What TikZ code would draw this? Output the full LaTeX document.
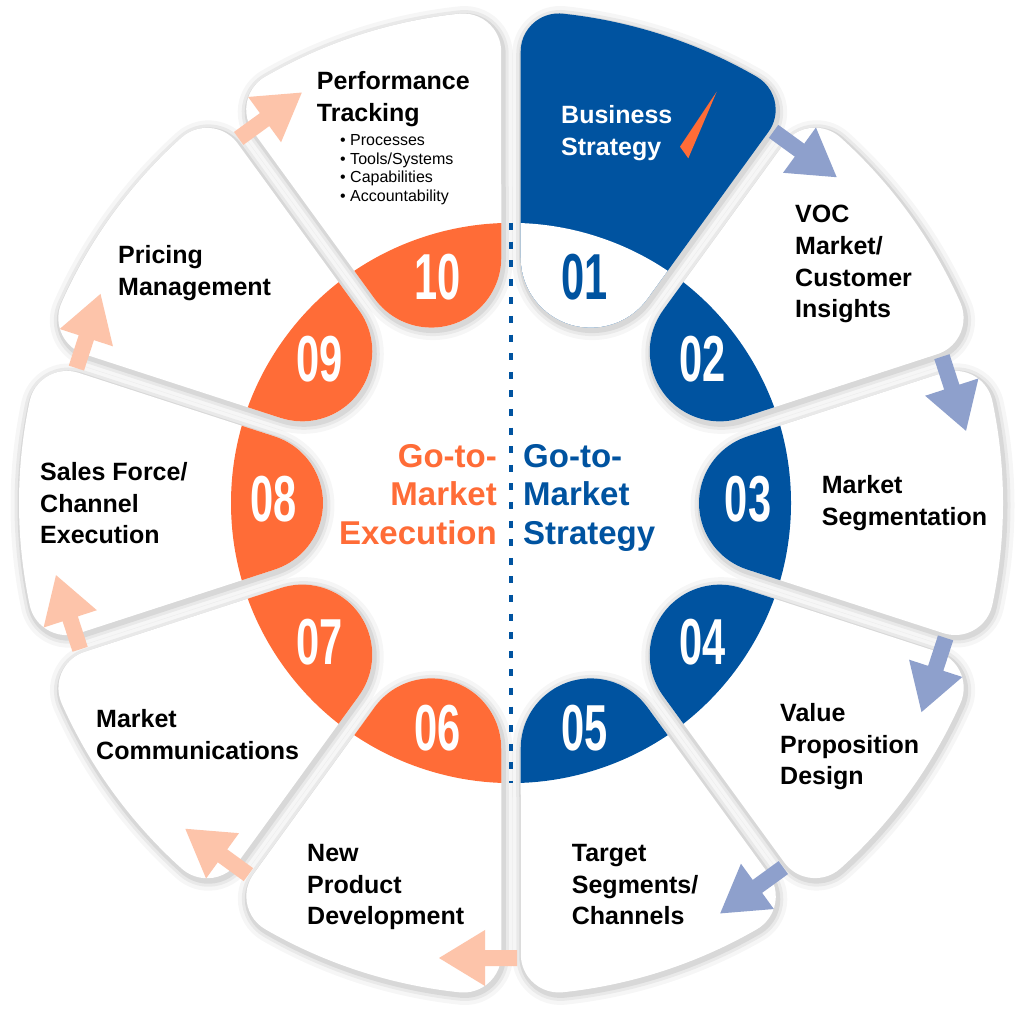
\documentclass[tikz,border=0pt]{standalone}
\usepackage{fontspec}
\setmainfont{Liberation Sans}
\newfontfamily\numfont{Liberation Sans}[FakeStretch=0.64]
\definecolor{gblue}{RGB}{0,83,160}
\definecolor{gorange}{RGB}{255,108,55}
\definecolor{arrblue}{RGB}{142,160,204}
\definecolor{arrpink}{RGB}{253,196,170}
\newcommand\petal[2]{%
  \begin{scope}[shift={(512.5,513.5)}, rotate=#1]
    \draw[black, opacity=0.035, line width=20pt, line join=round, petalpath];
    \draw[black, opacity=0.05, line width=12pt, line join=round, petalpath];
    \draw[black, opacity=0.07, line width=6pt, line join=round, petalpath];
  \end{scope}
  \begin{scope}[shift={(511,516)}, rotate=#1]
    \fill[white, petalpath];
    \begin{scope}
      \clip[petalpath];
      \fill[#2] (0,0) circle[radius=280pt];
    \end{scope}
  \end{scope}}
\newcommand\garrow[2]{%
  \begin{scope}[shift={(511,516)}, rotate=#1]
    \fill[#2] (447,6) -- (463,6) -- (463,-26) -- (483,-26) -- (455,-72) -- (427,-26) -- (447,-26) -- cycle;
  \end{scope}}
\begin{document}
\begin{tikzpicture}[x=1pt,y=1pt,
  petalpath/.style={insert path={(236.4,66.6) -- (432.4,130.3)
      arc[start angle=108, end angle=11.96, radius=38pt]
      arc[start angle=11.96, end angle=-11.96, radius=492pt]
      arc[start angle=-11.96, end angle=-108, radius=38pt]
      -- (236.4,-66.6)
      arc[start angle=252, end angle=108, radius=70pt] -- cycle}},
  lab/.style={font=\bfseries\fontsize{25}{31.7}\selectfont, align=left, anchor=north west, inner sep=0pt, text=black},
  mid/.style={font=\bfseries\fontsize{33}{38.5}\selectfont, inner sep=0pt},
  num/.style={font=\numfont\bfseries\fontsize{65}{65}\selectfont, inner sep=0pt, text=white},
  ]
\useasboundingbox (0,0) rectangle (1024,1019);
\fill[white] (0,0) rectangle (1024,1019);

% petals, bottom of the stack first
\petal{-72}{gblue}
\petal{-108}{gorange}
\petal{-36}{gblue}
\petal{-144}{gorange}
\petal{0}{gblue}
\petal{180}{gorange}
\petal{36}{gblue}
\petal{144}{gorange}
% petal 01 (highlighted)
\begin{scope}[shift={(512.5,513.5)}, rotate=72]
  \draw[black, opacity=0.035, line width=20pt, line join=round, petalpath];
  \draw[black, opacity=0.05, line width=12pt, line join=round, petalpath];
  \draw[black, opacity=0.07, line width=6pt, line join=round, petalpath];
\end{scope}
\begin{scope}[shift={(511,516)}, rotate=72]
  \fill[gblue, petalpath];
  \begin{scope}
    \clip[petalpath];
    \fill[white] (0,0) circle[radius=280pt];
  \end{scope}
\end{scope}
\petal{108}{gorange}

% dotted divider
\coordinate (dtop) at (511,796);
\coordinate (dbot) at (511,236);
\draw[gblue, line width=4.5pt, dash pattern=on 7pt off 11.6pt] (dtop) -- (dbot);

% arrows between steps
\garrow{54}{arrblue}
\garrow{18}{arrblue}
\garrow{-18}{arrblue}
\garrow{-54}{arrblue}
\garrow{-90}{arrpink}
\garrow{-126}{arrpink}
\garrow{-162}{arrpink}
\garrow{162}{arrpink}
\garrow{126}{arrpink}

% pointer in Business Strategy
\fill[gorange] (716.7,927.3) -- (680,872.3) -- (688.3,860.7) -- cycle;

% numbers
\begin{scope}[shift={(511,516)}]
  \node[num, text=gblue] (n01) at (72:237) {01};
  \node[num] (n02) at ([yshift=5]36:237) {02};
  \node[num] (n03) at ([yshift=4]0:237) {03};
  \node[num] (n04) at (-36:237) {04};
  \node[num] (n05) at (-72:237) {05};
  \node[num] (n06) at (-108:237) {06};
  \node[num] (n07) at (-144:237) {07};
  \node[num] (n08) at ([yshift=4]180:237) {08};
  \node[num] (n09) at ([yshift=5]144:237) {09};
  \node[num] (n10) at (108:237) {10};
\end{scope}

% labels
\node[lab, text=white] (l01) at (561,914) {Business\\Strategy};
\node[lab] (l02) at (795,814) {VOC\\Market/\\Customer\\Insights};
\node[lab] (l03) at (821.7,544) {Market\\Segmentation};
\node[lab] (l04) at (780,316) {Value\\Proposition\\Design};
\node[lab] (l05) at (571.7,175) {Target\\Segments/\\Channels};
\node[lab] (l06) at (307,175) {New\\Product\\Development};
\node[lab] (l07) at (96,310) {Market\\Communications};
\node[lab] (l08) at (40,557) {Sales Force/\\Channel\\Execution};
\node[lab] (l09) at (118,774) {Pricing\\Management};
\node[lab] (l10) at (316.7,947.7) {Performance\\Tracking};
\node[lab, font=\fontsize{16}{18.5}\selectfont] (b10) at (340,884.5) {• Processes\\• Tools/Systems\\• Capabilities\\• Accountability};

% centre titles
\node[mid, text=gorange, align=right, anchor=north east] (gx) at (497,575) {Go-to-\\Market\\Execution};
\node[mid, text=gblue, align=left, anchor=north west] (gs) at (523,575) {Go-to-\\Market\\Strategy};
\end{tikzpicture}
\end{document}
